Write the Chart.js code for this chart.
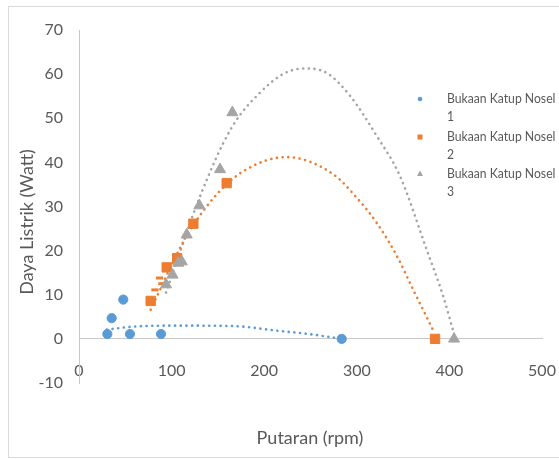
<!DOCTYPE html>
<html>
<head>
<meta charset="utf-8">
<script src="https://cdn.jsdelivr.net/npm/chart.js@4"></script>
<style>
  body { margin: 0; background: #ffffff; }
  #wrap { width: 559px; height: 459px; }
</style>
</head>
<body>
<div id="wrap"><canvas id="myChart" width="559" height="459"></canvas></div>
<script>
/////////////////// DATA ///////////////////

// Bukaan Katup Nosel 1 (blue circles)
const nosel1X = [30.6, 35.3, 47.8, 55, 88.6, 283.7];
const nosel1Y = [1.1, 4.7, 8.9, 1.1, 1.1, 0];
// Bukaan Katup Nosel 2 (orange squares)
const nosel2X = [77.4, 94.7, 106, 123.5, 159.5, 384.5];
const nosel2Y = [8.6, 16.2, 18.3, 26.1, 35.3, 0];
// small orange dashes next to the squares
const nosel2DashX = [82, 87, 89.5];
const nosel2DashY = [11.1, 13.8, 12.5];
// Bukaan Katup Nosel 3 (grey triangles)
const nosel3X = [94, 101, 107.2, 111, 116.3, 130, 152.3, 165.6, 405];
const nosel3Y = [12.3, 14.5, 17.2, 17.5, 23.6, 30.2, 38.4, 51.3, 0];

// dotted trend lines
const trend1X = [30, 60, 105, 167, 212, 248, 284];
const trend1Y = [2.1, 2.8, 3.0, 2.9, 1.9, 1.1, 0];
const trend2X = [77.4, 107.2, 118, 146.9, 177.4, 224, 274.6, 299.9, 321.5, 343, 361, 383.5];
const trend2Y = [6.6, 19.8, 24, 32.3, 38, 41.2, 37.3, 32, 26.3, 18.9, 11.1, 1.5];
const trend3X = [94, 130.7, 164.9, 195.5, 222, 245, 268, 292.7, 321.5, 346.6, 375.5, 393.4, 404.5];
const trend3Y = [10.5, 32.3, 47.9, 55.8, 60.2, 61.3, 60.2, 55.1, 46, 36.9, 20.2, 9.6, 1.5];

const seriesNames = ["Bukaan Katup Nosel", "Bukaan Katup Nosel", "Bukaan Katup Nosel"];
const seriesNumbers = ["1", "2", "3"];
const xTitle = "Putaran (rpm)";
const yTitle = "Daya Listrik (Watt)";
const xTicks = [0, 100, 200, 300, 400, 500];
const yTicks = [-10, 0, 10, 20, 30, 40, 50, 60, 70];

/////////////////// HELPERS ///////////////////

function pairs(xs, ys) {
  return xs.map((x, i) => ({ x: x, y: ys[i] }));
}

const BLUE = "#5B9BD5";
const ORANGE = "#ED7D31";
const GREY = "#A5A5A5";
const TEXT = "#595959";
const FONT = "Lato, 'Open Sans', sans-serif";

function trendSet(xs, ys, color) {
  return {
    type: "line",
    data: pairs(xs, ys),
    borderColor: color,
    borderWidth: 2.6,
    borderDash: [0.1, 5.6],
    borderCapStyle: "round",
    pointRadius: 0,
    cubicInterpolationMode: "monotone",
    fill: false,
    order: 5,
  };
}

/////////////////// PLUGIN: BORDER, TITLES, LEGEND ///////////////////

const decor = {
  id: "decor",
  afterDraw(chart) {
    const ctx = chart.ctx;
    ctx.save();
    // outer frame
    ctx.strokeStyle = "#d9d9d9";
    ctx.lineWidth = 1;
    ctx.strokeRect(8.5, 6.5, 560, 451);

    // axis titles
    ctx.fillStyle = TEXT;
    ctx.font = "18px " + FONT;
    ctx.textAlign = "center";
    ctx.textBaseline = "middle";
    ctx.fillText(xTitle, 310, 438);
    ctx.save();
    ctx.translate(27, 222);
    ctx.rotate(-Math.PI / 2);
    ctx.fillText(yTitle, 0, 0);
    ctx.restore();

    // legend
    const rows = [98, 136, 173];
    const colors = [BLUE, ORANGE, GREY];
    ctx.textAlign = "left";
    rows.forEach((y, i) => {
      ctx.fillStyle = colors[i];
      if (i === 0) {
        ctx.beginPath();
        ctx.arc(420, y + 1, 2.3, 0, Math.PI * 2);
        ctx.fill();
      } else if (i === 1) {
        ctx.fillRect(417.5, y - 1.5, 5, 5);
      } else {
        ctx.beginPath();
        ctx.moveTo(420, y - 2.5);
        ctx.lineTo(423, y + 3);
        ctx.lineTo(417, y + 3);
        ctx.closePath();
        ctx.fill();
      }
      // legend text is narrow in the original, squeeze it a little
      ctx.save();
      ctx.translate(447, y);
      ctx.scale(0.87, 1);
      ctx.font = "14px " + FONT;
      ctx.fillStyle = TEXT;
      ctx.fillText(seriesNames[i], 0, 0);
      ctx.fillText(seriesNumbers[i], 0, 18);
      ctx.restore();
    });
    ctx.restore();
  },
};

/////////////////// CHART ///////////////////

const config = {
  type: "scatter",
  data: {
    datasets: [
      trendSet(trend1X, trend1Y, BLUE),
      trendSet(trend2X, trend2Y, ORANGE),
      trendSet(trend3X, trend3Y, GREY),
      {
        label: seriesNames[0] + " " + seriesNumbers[0],
        data: pairs(nosel1X, nosel1Y),
        backgroundColor: BLUE,
        borderColor: BLUE,
        pointStyle: "circle",
        pointRadius: 4.6,
        order: 1,
      },
      {
        label: seriesNames[1] + " " + seriesNumbers[1],
        data: pairs(nosel2X, nosel2Y),
        backgroundColor: ORANGE,
        borderColor: ORANGE,
        pointStyle: "rect",
        pointRadius: 6.6,
        order: 2,
      },
      {
        label: "dash",
        data: pairs(nosel2DashX, nosel2DashY),
        backgroundColor: ORANGE,
        borderColor: ORANGE,
        pointStyle: "line",
        pointRadius: 3.6,
        pointBorderWidth: 3,
        order: 2,
      },
      {
        label: seriesNames[2] + " " + seriesNumbers[2],
        data: pairs(nosel3X, nosel3Y),
        backgroundColor: GREY,
        borderColor: GREY,
        pointStyle: "triangle",
        pointRadius: 6.4,
        order: 0,
      },
    ],
  },
  options: {
    responsive: false,
    animation: false,
    events: [],
    layout: { padding: { left: 0, right: 17, top: 30, bottom: 76 } },
    plugins: { legend: { display: false }, tooltip: { enabled: false } },
    scales: {
      x: {
        type: "linear",
        position: { y: 0 },
        min: xTicks[0],
        max: xTicks[xTicks.length - 1],
        afterBuildTicks: (s) => { s.ticks = xTicks.map((v) => ({ value: v })); },
        afterFit: (s) => { s.height = 0; s.paddingLeft = 0; s.paddingRight = 0; },
        grid: { color: "transparent", drawTicks: false },
        border: { display: true, color: "#c8c8c8", width: 1 },
        ticks: { color: TEXT, font: { family: FONT, size: 16 }, padding: 22, maxRotation: 0 },
      },
      y: {
        type: "linear",
        position: "left",
        min: yTicks[0],
        max: yTicks[yTicks.length - 1],
        afterBuildTicks: (s) => { s.ticks = yTicks.map((v) => ({ value: v })); },
        afterFit: (s) => { s.width = 79; s.paddingTop = 0; s.paddingBottom = 0; },
        grid: { color: "transparent", drawTicks: false },
        border: { display: true, color: "#c8c8c8", width: 1 },
        ticks: { color: TEXT, font: { family: FONT, size: 16 }, padding: 16 },
      },
    },
  },
  plugins: [decor],
};

const myChart = new Chart(document.getElementById("myChart"), config);
</script>
</body>
</html>
